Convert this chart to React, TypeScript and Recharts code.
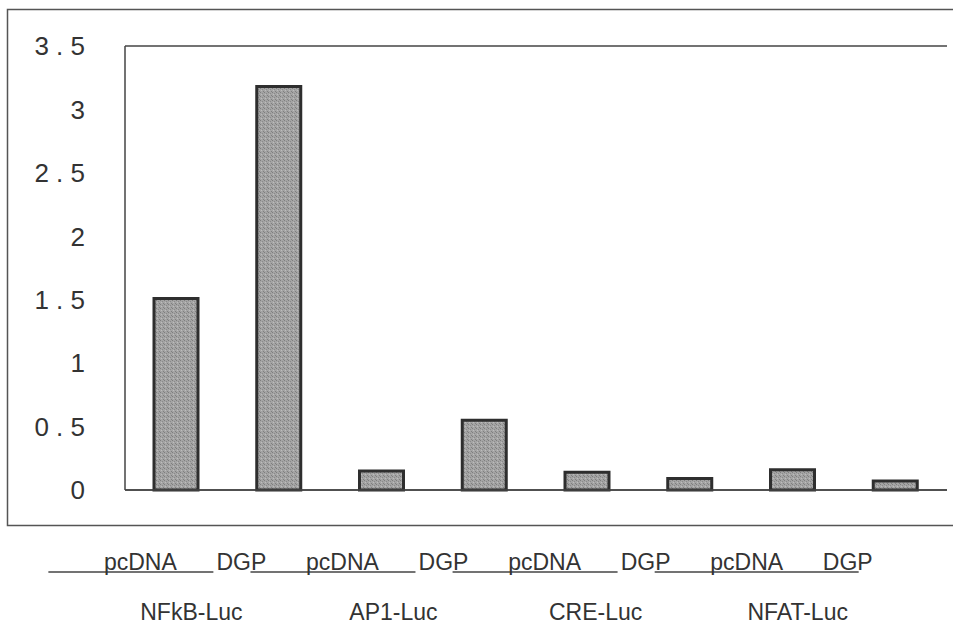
import { BarChart, Bar, XAxis, YAxis, CartesianGrid } from 'recharts';

// sample labels under each bar, group labels under each pair
const samples = ['pcDNA', 'DGP', 'pcDNA', 'DGP', 'pcDNA', 'DGP', 'pcDNA', 'DGP'];
const groups = ['NFkB-Luc', 'AP1-Luc', 'CRE-Luc', 'NFAT-Luc'];
const values = [1.51, 3.18, 0.15, 0.55, 0.14, 0.09, 0.16, 0.07];
const yTicks = [0, 0.5, 1, 1.5, 2, 2.5, 3, 3.5];

const data = samples.map((s, i) => ({ name: s, value: values[i] }));

const FONT = '"Liberation Sans", Arial, sans-serif';
const INK = '#333';

// labels in the original sit a bit left of the bars, drifting a little further per column
const SampleTick = (props: any) => {
  const { x, y, payload } = props;
  const i = payload.index;
  const cx = x - 36 - 1.7 * i;
  const isFirst = i % 2 === 0;
  return (
    <g>
      {isFirst && (
        <line x1={cx - 92} x2={cx + (i === 6 ? 112 : 73)} y1={y + 82} y2={y + 82} stroke="#444" strokeWidth={1.5} />
      )}
      <text x={cx} y={y + 80} textAnchor="middle" fontSize={23} fontFamily={FONT} fill={INK}>
        {payload.value}
      </text>
      {isFirst && (
        <text x={cx + 51} y={y + 130} textAnchor="middle" fontSize={23} fontFamily={FONT} fill={INK}>
          {groups[i / 2]}
        </text>
      )}
    </g>
  );
};

const App = () => {
  return (
    <div style={{ position: 'absolute', left: 0, top: 0, width: 953, height: 628, overflow: 'hidden', background: '#fff' }}>
      {/* stipple fill for the bars + outer frame (its right side runs off the page) */}
      <svg width={953} height={628} style={{ position: 'absolute', left: 0, top: 0 }}>
        <defs>
          <pattern id="stipple" width={4} height={4} patternUnits="userSpaceOnUse">
            <rect width={4} height={4} fill="#a4a4a4" />
            <rect x={0} y={0} width={1} height={1} fill="#7e7e7e" />
            <rect x={2} y={1} width={1} height={1} fill="#8a8a8a" />
            <rect x={1} y={2} width={1} height={1} fill="#bdbdbd" />
            <rect x={3} y={3} width={1} height={1} fill="#808080" />
          </pattern>
        </defs>
        <polyline points="970,9.5 7.5,9.5 7.5,525.5 970,525.5" fill="none" stroke="#555" strokeWidth={1.5} />
      </svg>
      <div style={{ position: 'absolute', left: 0, top: 0 }}>
        <BarChart width={953} height={628} data={data} margin={{ top: 46, right: 6, left: 0, bottom: 0 }}>
          <CartesianGrid vertical={false} stroke="#444" strokeWidth={1.5} />
          <XAxis
            dataKey="name"
            height={138}
            axisLine={{ stroke: '#444', strokeWidth: 1.5 }}
            tickLine={false}
            tickSize={0}
            tickMargin={0}
            interval={0}
            tick={<SampleTick />}
          />
          <YAxis
            yAxisId="left"
            width={125}
            domain={[0, 3.5]}
            ticks={yTicks}
            axisLine={{ stroke: '#444', strokeWidth: 1.5 }}
            tickLine={false}
            tickSize={0}
            tickMargin={40}
            tickFormatter={(v: number) => String(v).split('').join(' ')}
            tick={{ fontSize: 26, fontFamily: FONT, fill: INK }}
          />
          <YAxis
            yAxisId="right"
            orientation="right"
            width={0}
            domain={[0, 3.5]}
            ticks={yTicks}
            tick={false}
            tickLine={false}
            axisLine={{ stroke: '#444', strokeWidth: 1.5 }}
          />
          <Bar
            yAxisId="left"
            dataKey="value"
            barSize={44}
            fill="url(#stipple)"
            stroke="#2e2e2e"
            strokeWidth={3}
            isAnimationActive={false}
          />
        </BarChart>
      </div>
    </div>
  );
};

export default App;
